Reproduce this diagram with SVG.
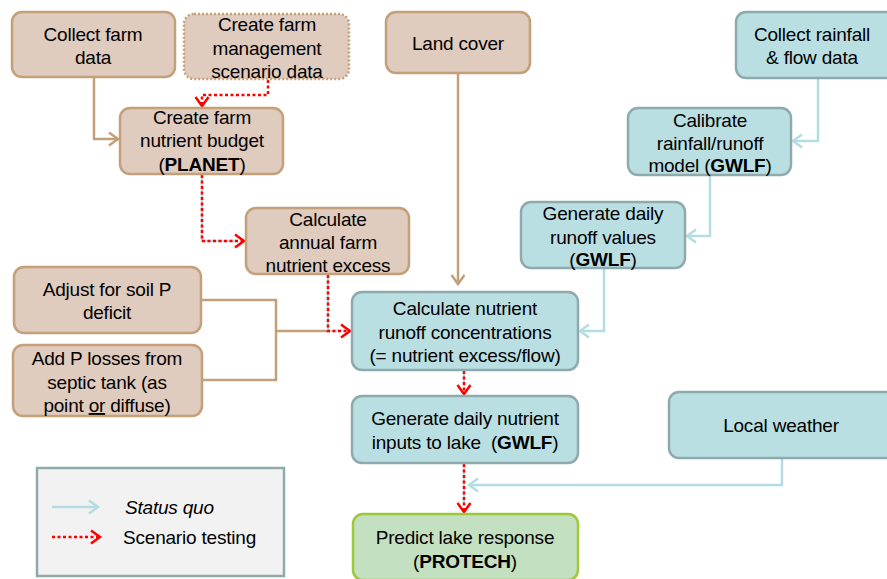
<svg xmlns="http://www.w3.org/2000/svg" width="887" height="579" viewBox="0 0 887 579">
<defs>
<style>
.t{font-family:"Liberation Sans",Arial,sans-serif;font-size:19px;fill:#000;text-anchor:middle;letter-spacing:-0.2px}
.tan{fill:#e0cbbf;stroke:#c4a07a;stroke-width:2.5}
.blu{fill:#b9dfe3;stroke:#8eaaac;stroke-width:2.5}
.grn{fill:#c3e0c0;stroke:#9cc83a;stroke-width:2.5}
.lt{fill:none;stroke:#c4a07a;stroke-width:2.5}
.lb{fill:none;stroke:#b3dde3;stroke-width:2.5}
.lr{fill:none;stroke:#ff0000;stroke-width:2.5;stroke-dasharray:3 2.5}
</style>
<marker id="mt" markerWidth="14" markerHeight="16" refX="11" refY="8" orient="auto" markerUnits="userSpaceOnUse"><path d="M2,1.5 L11,8 L2,14.5" fill="none" stroke="#c4a07a" stroke-width="2.5"/></marker>
<marker id="mb" markerWidth="14" markerHeight="16" refX="11" refY="8" orient="auto" markerUnits="userSpaceOnUse"><path d="M2,1.5 L11,8 L2,14.5" fill="none" stroke="#b3dde3" stroke-width="2.5"/></marker>
<marker id="mr" markerWidth="14" markerHeight="16" refX="11" refY="8" orient="auto" markerUnits="userSpaceOnUse"><path d="M2,1.5 L11,8 L2,14.5" fill="none" stroke="#ff0000" stroke-width="2.5"/></marker>
</defs>

<g id="connectors">
<path class="lt" d="M94,77 V139 H118" marker-end="url(#mt)"/>
<path class="lr" d="M268,80 V95 H202 V106" marker-end="url(#mr)"/>
<path class="lb" d="M202,175 V241 H236"/>
<path class="lr" d="M202,175 V241 H244" marker-end="url(#mr)"/>
<path class="lt" d="M458,74 V284" marker-end="url(#mt)"/>
<path class="lb" d="M818,79 V141 H793" marker-end="url(#mb)"/>
<path class="lb" d="M710,176 V236 H687" marker-end="url(#mb)"/>
<path class="lb" d="M604,269 V331 H580" marker-end="url(#mb)"/>
<path class="lt" d="M202,300 H276 V380 H203"/>
<path class="lt" d="M276,331 H330"/>
<path class="lb" d="M328,275 V331 H342"/>
<path class="lr" d="M328,275 V331 H350" marker-end="url(#mr)"/>
<path class="lb" d="M464,371 V386"/>
<path class="lr" d="M464,371 V394" marker-end="url(#mr)"/>
<path class="lb" d="M464,464 V504"/>
<path class="lr" d="M464,464 V512" marker-end="url(#mr)"/>
<path class="lb" d="M782,459 V485 H469" marker-end="url(#mb)"/>
</g>

<g id="n-collect-farm"><rect class="tan" x="12" y="12" width="163" height="65" rx="10"/>
<text class="t" x="93" y="41">Collect farm</text><text class="t" x="93" y="64">data</text></g>

<g id="n-scenario"><rect x="184" y="14" width="165" height="65" rx="10" fill="#e0cbbf" stroke="#c4a07a" stroke-width="2.5" stroke-dasharray="2 2"/>
<text class="t" x="267" y="31">Create farm</text><text class="t" x="267" y="55">management</text><text class="t" x="267" y="78">scenario data</text></g>

<g id="n-landcover"><rect class="tan" x="386" y="12" width="144" height="61" rx="10"/>
<text class="t" x="458" y="50">Land cover</text></g>

<g id="n-rainfall"><rect class="blu" x="736" y="12" width="160" height="66" rx="10"/>
<text class="t" x="812" y="41">Collect rainfall</text><text class="t" x="812" y="64">&amp; flow data</text></g>

<g id="n-planet"><rect class="tan" x="120" y="108" width="163" height="66" rx="10"/>
<text class="t" x="202" y="124">Create farm</text><text class="t" x="202" y="147">nutrient budget</text><text class="t" x="202" y="171">(<tspan font-weight="bold">PLANET</tspan>)</text></g>

<g id="n-calibrate"><rect class="blu" x="628" y="108" width="163" height="67" rx="10"/>
<text class="t" x="710" y="127">Calibrate</text><text class="t" x="710" y="150">rainfall/runoff</text><text class="t" x="710" y="172">model (<tspan font-weight="bold">GWLF</tspan>)</text></g>

<g id="n-runoff"><rect class="blu" x="521" y="202" width="164" height="66" rx="10"/>
<text class="t" x="603" y="220">Generate daily</text><text class="t" x="603" y="244">runoff values</text><text class="t" x="603" y="266">(<tspan font-weight="bold">GWLF</tspan>)</text></g>

<g id="n-excess"><rect class="tan" x="246" y="208" width="163" height="66" rx="10"/>
<text class="t" x="328" y="226">Calculate</text><text class="t" x="328" y="249">annual farm</text><text class="t" x="328" y="272">nutrient excess</text></g>

<g id="n-soilp"><rect class="tan" x="14" y="267" width="187" height="66" rx="10"/>
<text class="t" x="107" y="296">Adjust for soil P</text><text class="t" x="107" y="319">deficit</text></g>

<g id="n-septic"><rect class="tan" x="13" y="345" width="189" height="71" rx="10"/>
<text class="t" x="107" y="365">Add P losses from</text><text class="t" x="107" y="389">septic tank (as</text><text class="t" x="107" y="412">point <tspan text-decoration="underline">or</tspan> diffuse)</text></g>

<g id="n-concentrations"><rect class="blu" x="352" y="292" width="226" height="78" rx="10"/>
<text class="t" x="465" y="315">Calculate nutrient</text><text class="t" x="465" y="339">runoff concentrations</text><text class="t" x="465" y="362">(= nutrient excess/flow)</text></g>

<g id="n-inputs"><rect class="blu" x="352" y="396" width="226" height="67" rx="10"/>
<text class="t" x="465" y="425">Generate daily nutrient</text><text class="t" x="465" y="449">inputs to lake &#160;(<tspan font-weight="bold">GWLF</tspan>)</text></g>

<g id="n-weather"><rect class="blu" x="669" y="392" width="228" height="66" rx="10"/>
<text class="t" x="781" y="432">Local weather</text></g>

<g id="n-protech"><rect class="grn" x="353" y="514" width="225" height="66" rx="10"/>
<text class="t" x="465" y="544">Predict lake response</text><text class="t" x="465" y="568">(<tspan font-weight="bold">PROTECH</tspan>)</text></g>

<g id="legend">
<rect x="37" y="468" width="247" height="108" fill="#f2f2f2" stroke="#8eaaac" stroke-width="2.5"/>
<path class="lb" d="M52,507 H98" marker-end="url(#mb)"/>
<text class="t" x="125" y="514" style="text-anchor:start;font-style:italic">Status quo</text>
<path class="lr" d="M52,537 H100" marker-end="url(#mr)"/>
<text class="t" x="123" y="544" style="text-anchor:start">Scenario testing</text>
</g>
</svg>
